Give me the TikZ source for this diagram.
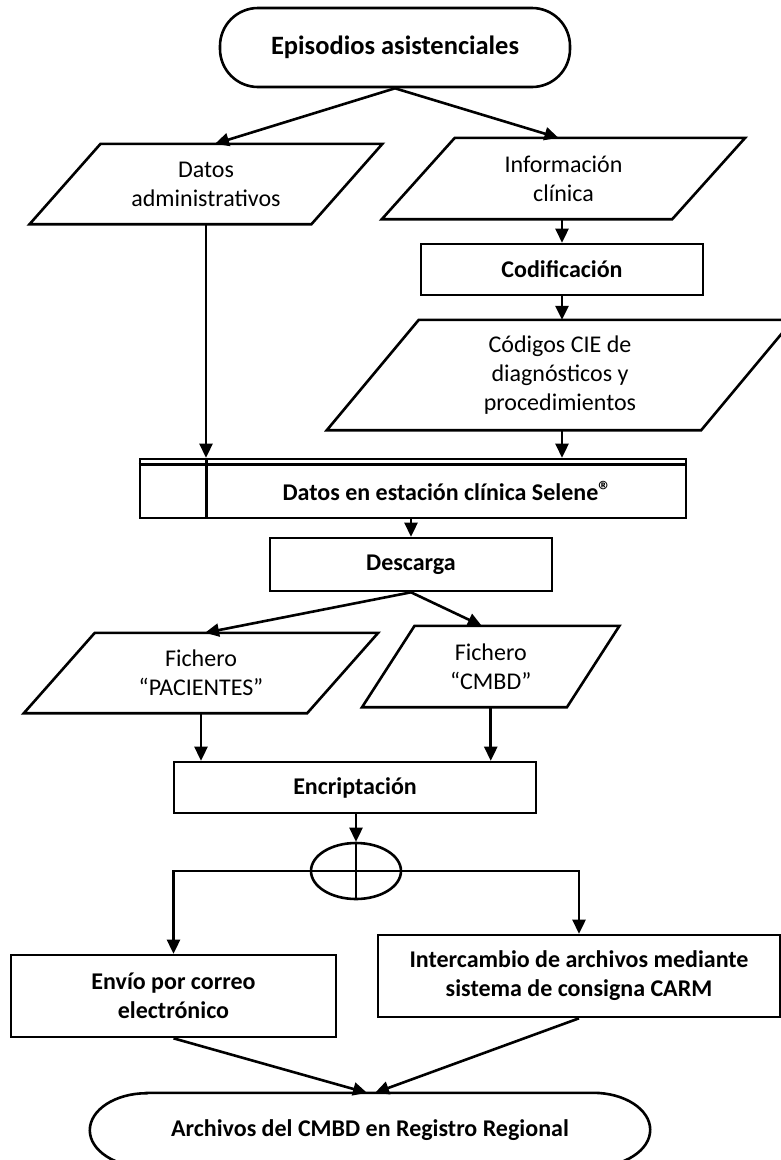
\documentclass[tikz,border=0pt]{standalone}
\usepackage{fontspec}
\setmainfont{Carlito}
\usetikzlibrary{arrows.meta,shapes.geometric}
\newcommand{\drawpara}[2]{\draw[ln] ([xshift=#2]#1.north west) -- ([xshift=#2]#1.north east) -- ([xshift=-#2]#1.south east) -- ([xshift=-#2]#1.south west) -- cycle;}
\begin{document}
\begin{tikzpicture}[x=1pt,y=-1pt,
  every node/.style={font=\fontsize{24}{29}\selectfont, align=center, inner sep=0pt},
  ln/.style={line width=2.6pt, line join=miter},
  box/.style={draw, rectangle, ln},
  bx/.style={font=\fontsize{24}{29}\selectfont\bfseries},
  arr/.style={line width=2.6pt, -{Triangle[length=14pt,width=13pt]}}
]
\useasboundingbox (0,0) rectangle (781,1160);

% nodes
\node[box, font=\fontsize{26.5}{31}\selectfont\bfseries, rounded corners=38pt, minimum width=350pt, minimum height=79pt] (ep) at (395,47.5) {Episodios asistenciales};

\node[minimum width=281.5pt, minimum height=80pt] (datos) at (206,184) {Datos\\administrativos};
\drawpara{datos}{35.5pt}

\node[minimum width=290pt, minimum height=81pt] (info) at (563.5,178.5) {Información\\clínica};
\drawpara{info}{36.5pt}

\node[box, bx, minimum width=282pt, minimum height=51pt] (codif) at (562,269.5) {Codificación};

\node[minimum width=374pt, minimum height=110pt] (codigos) at (560,375) {Códigos CIE de\\diagnósticos y\\procedimientos};
\drawpara{codigos}{46pt}

\node[box, minimum width=546pt, minimum height=59pt] (selene) at (413,488.5) {};
\draw[ln] ([yshift=-7pt]selene.north west) -- ([yshift=-7pt]selene.north east);
\draw[ln] ([xshift=68pt]selene.north west) -- ([xshift=68pt]selene.south west);
\node[bx] (selenetxt) at (447,491) {Datos en estación clínica Selene\raisebox{1pt}{\fontsize{26}{26}\selectfont ®}};

\node[box, bx, minimum width=282pt, minimum height=53pt] (descarga) at (411,564.5) {Descarga};

\node[minimum width=283pt, minimum height=80pt] (pac) at (201,673) {Fichero\\“PACIENTES”};
\drawpara{pac}{35.5pt}

\node[minimum width=204.5pt, minimum height=81pt] (cmbd) at (490.75,666.5) {Fichero\\“CMBD”};
\drawpara{cmbd}{26.25pt}

\node[box, bx, minimum width=362pt, minimum height=51pt] (encrip) at (355,787.5) {Encriptación};

\node[draw, ellipse, ln, minimum width=90pt, minimum height=56pt] (circ) at (356,871) {};

\node[box, bx, minimum width=325pt, minimum height=82pt] (envio) at (173.5,996) {Envío por correo\\electrónico};

\node[box, bx, minimum width=402pt, minimum height=82pt] (inter) at (579,976) {Intercambio de archivos mediante\\sistema de consigna CARM};

\node[bx, minimum width=446pt, minimum height=74pt] (final) at (370,1130) {Archivos del CMBD en Registro Regional};
\draw[ln] (final.north west) -- (final.north east)
  arc[start angle=90, end angle=-90, x radius=57pt, y radius=37pt]
  -- (final.south west)
  arc[start angle=270, end angle=90, x radius=57pt, y radius=37pt] -- cycle;

% connectors
\draw[arr] (ep.south) -- ([xshift=9pt]datos.north);
\draw[arr] (ep.south) -- ([xshift=-5pt]info.north);
\draw[arr] (datos.south) -- (datos.south |- selene.north);
\draw[arr] (codif.north |- info.south) -- (codif.north);
\draw[arr] (codif.south) -- (codif.south |- codigos.north);
\draw[arr] (codif.south |- codigos.south) -- (codif.south |- selene.north);
\draw[arr] (descarga.north |- selene.south) -- (descarga.north);
\draw[arr] (descarga.south) -- ([xshift=4pt]pac.north);
\draw[arr] (descarga.south) -- ([xshift=-9pt]cmbd.north);
\draw[arr] (pac.south) -- (pac.south |- encrip.north);
\draw[arr] (cmbd.south) -- (cmbd.south |- encrip.north);
\draw[arr] (circ.north |- encrip.south) -- (circ.north);
\draw[ln] (circ.north) -- (circ.south);
\draw[ln] (circ.west) -- (circ.east);
\draw[arr] (circ.west) -| (envio.north);
\draw[arr] (circ.east) -| (inter.north);
\draw[arr] (envio.south) -- ([xshift=-3pt]final.north);
\draw[arr] (inter.south) -- ([xshift=5pt]final.north);
\end{tikzpicture}
\end{document}
